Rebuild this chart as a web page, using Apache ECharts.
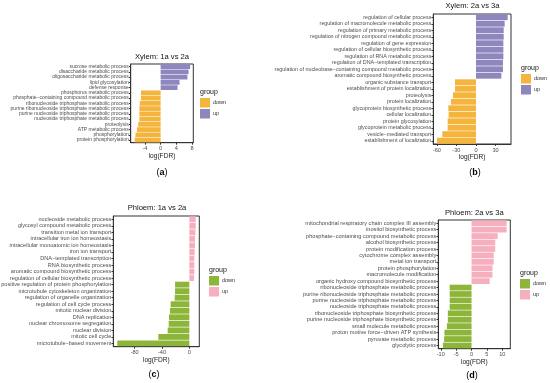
<!DOCTYPE html>
<html><head><meta charset="utf-8">
<script src="https://cdn.jsdelivr.net/npm/echarts@6/dist/echarts.min.js"></script>
<style>html,body{margin:0;padding:0;background:#fff}#c{width:550px;height:383px}</style>
</head><body><div id="c"></div>
<script>
// ---------- DATA ----------
const titles = ['Xylem: 1a vs 2a', 'Xylem: 2a vs 3a', 'Phloem: 1a vs 2a', 'Phloem: 2a vs 3a'];
const captions = ['a', 'b', 'c', 'd'];
const groups = ['down', 'up'];

const catsA = ['sucrose metabolic process','disaccharide metabolic process','oligosaccharide metabolic process','lipid glycosylation','defense response','phosphorus metabolic process','phosphate\u2212containing compound metabolic process','ribonucleoside triphosphate metabolic process','purine ribonucleoside triphosphate metabolic process','purine nucleoside triphosphate metabolic process','nucleoside triphosphate metabolic process','proteolysis','ATP metabolic process','phosphorylation','protein phosphorylation'];
const valsA = [7.5, 7.1, 6.8, 4.8, 4.3, -5.0, -5.0, -5.3, -5.4, -5.4, -5.4, -5.7, -6.0, -6.4, -6.6];
const grpA = ['up','up','up','up','up','down','down','down','down','down','down','down','down','down','down'];
const ticksA = [-4, 0, 4, 8];

const catsB = ['regulation of cellular process','regulation of macromolecule metabolic process','regulation of primary metabolic process','regulation of nitrogen compound metabolic process','regulation of gene expression','regulation of cellular biosynthetic process','regulation of RNA metabolic process','regulation of DNA\u2212templated transcription','regulation of nucleobase\u2212containing compound metabolic process','aromatic compound biosynthetic process','organic substance transport','establishment of protein localization','proteolysis','protein localization','glycoprotein biosynthetic process','cellular localization','protein glycosylation','glycoprotein metabolic process','vesicle\u2212mediated transport','establishment of localization'];
const valsB = [48.5, 43.9, 42.4, 42.4, 41.9, 41.9, 41.9, 41.3, 41.3, 38.8, -32.2, -32.2, -35.2, -38.3, -42.4, -41.9, -43.4, -43.4, -51.6, -59.7];
const grpB = ['up','up','up','up','up','up','up','up','up','up','down','down','down','down','down','down','down','down','down','down'];
const ticksB = [-60, -30, 0, 30];

const catsC = ['nucleoside metabolic process','glycosyl compound metabolic process','transition metal ion transport','intracellular iron ion homeostasis','intracellular monoatomic ion homeostasis','iron ion transport','DNA\u2212templated transcription','RNA biosynthetic process','aromatic compound biosynthetic process','regulation of cellular biosynthetic process','positive regulation of protein phosphorylation','microtubule cytoskeleton organization','regulation of organelle organization','regulation of cell cycle process','mitotic nuclear division','DNA replication','nuclear chromosome segregation','nuclear division','mitotic cell cycle','microtubule\u2212based movement'];
const valsC = [9.3, 9.3, 8.8, 8.3, 8.3, 7.8, 7.3, 7.3, 7.3, 6.8, -20.9, -20.9, -21.4, -27.3, -28.3, -29.8, -30.2, -31.7, -45.4, -105.4];
const grpC = ['up','up','up','up','up','up','up','up','up','up','down','down','down','down','down','down','down','down','down','down'];
const ticksC = [-80, -40, 0];

const catsD = ['mitochondrial respiratory chain complex III assembly','inositol biosynthetic process','phosphate\u2212containing compound metabolic process','alcohol biosynthetic process','protein modification process','cytochrome complex assembly','metal ion transport','protein phosphorylation','macromolecule modification','organic hydroxy compound biosynthetic process','ribonucleoside triphosphate metabolic process','purine ribonucleoside triphosphate metabolic process','purine nucleoside triphosphate metabolic process','nucleoside triphosphate metabolic process','ribonucleoside triphosphate biosynthetic process','purine nucleoside triphosphate biosynthetic process','small molecule metabolic process','proton motive force\u2212driven ATP synthesis','pyruvate metabolic process','glycolytic process'];
const valsD = [11.4, 11.4, 8.5, 7.7, 7.7, 7.2, 7.2, 6.8, 6.8, 5.9, -7.1, -7.1, -7.1, -7.1, -7.7, -7.7, -8.0, -8.8, -8.9, -9.3];
const grpD = ['up','up','up','up','up','up','up','up','up','up','down','down','down','down','down','down','down','down','down','down'];
const ticksD = [-10, -5, 0, 5, 10];

// ---------- LAYOUT / STYLE ----------
const FONT = 'Liberation Sans, Arial, Helvetica, sans-serif';
const xylemColors = {down: '#F5B43C', up: '#8E87BE'};
const phloemColors = {down: '#8DB53A', up: '#F5AFBE'};
const panels = [
  {cats: catsA, vals: valsA, grp: grpA, ticks: ticksA, min: -7.6, max: 8.3, fs: 5.0,
   grid: {left: 130.7, top: 64, width: 62.6, height: 78.7}, colors: xylemColors, suffix: '',
   title: [162, 56.7], cap: [162, 173], legend: [200, 98]},
  {cats: catsB, vals: valsB, grp: grpB, ticks: ticksB, min: -65.4, max: 53.6, fs: 5.35,
   grid: {left: 433.3, top: 14, width: 77.7, height: 130}, colors: xylemColors, suffix: '',
   title: [472.5, 5.5], cap: [475, 173], legend: [521, 74]},
  {cats: catsC, vals: valsC, grp: grpC, ticks: ticksC, min: -111.3, max: 14.6, fs: 5.55,
   grid: {left: 113.3, top: 216, width: 86, height: 130.7}, colors: phloemColors, suffix: ' ',
   title: [157, 208.3], cap: [154, 375], legend: [209, 276]},
  {cats: catsD, vals: valsD, grp: grpD, ticks: ticksD, min: -10.8, max: 12.6, fs: 5.65,
   grid: {left: 438.3, top: 220, width: 72, height: 128.7}, colors: phloemColors, suffix: ' ',
   title: [474.3, 213.3], cap: [472, 376], legend: [520, 279]}
];

const grids = [], xAxes = [], yAxes = [], series = [], legends = [], graphics = [];
panels.forEach((p, i) => {
  grids.push(Object.assign({show: true, borderColor: '#333', borderWidth: 1,
    backgroundColor: '#fff', containLabel: false, outerBoundsMode: 'none'}, p.grid));
  xAxes.push({gridIndex: i, type: 'value', min: p.min, max: p.max,
    name: 'log(FDR)', nameLocation: 'middle', nameGap: 8,
    nameTextStyle: {fontSize: 6.6, color: '#1a1a1a', fontFamily: FONT},
    splitLine: {show: false},
    axisLine: {show: true, onZero: false, lineStyle: {color: '#333', width: 1}},
    axisTick: {show: true, length: 2, lineStyle: {color: '#333'}, customValues: p.ticks},
    axisLabel: {fontSize: 5.6, color: '#4d4d4d', margin: 3, fontFamily: FONT, customValues: p.ticks}
  });
  yAxes.push({gridIndex: i, type: 'category', data: p.cats, inverse: true,
    axisLine: {show: true, onZero: false, lineStyle: {color: '#333', width: 1}},
    axisTick: {show: true, length: 1.8, alignWithLabel: true, lineStyle: {color: '#333'}},
    axisLabel: {fontSize: p.fs, color: '#4d4d4d', margin: 2, interval: 0, fontFamily: FONT},
    splitLine: {show: false}
  });
  groups.forEach(g => {
    series.push({type: 'bar', name: g + p.suffix, xAxisIndex: i, yAxisIndex: i, stack: 'st' + i,
      barCategoryGap: '10%',
      data: p.vals.map((v, j) => p.grp[j] === g ? v : null),
      itemStyle: {color: p.colors[g]},
      emphasis: {disabled: true}
    });
  });
  legends.push({left: p.legend[0], top: p.legend[1], orient: 'vertical', padding: 0,
    itemWidth: 10, itemHeight: 9.5, itemGap: 1.5, icon: 'rect', selectedMode: false,
    data: groups.map(g => g + p.suffix),
    formatter: n => n.trim(),
    textStyle: {fontSize: 5.5, color: '#333', fontFamily: FONT, padding: [0, 0, 0, -2]}
  });
  graphics.push({type: 'text', x: p.title[0], y: p.title[1],
    style: {text: titles[i], fontSize: 7.6, fontFamily: FONT, fill: '#111', align: 'center', verticalAlign: 'middle'}});
  graphics.push({type: 'text', x: p.legend[0], y: p.legend[1] - 6,
    style: {text: 'group', fontSize: 7, fontFamily: FONT, fill: '#111', align: 'left', verticalAlign: 'middle'}});
  graphics.push({type: 'text', x: p.cap[0], y: p.cap[1],
    style: {text: '{n|(}{b|' + captions[i] + '}{n|)}', align: 'center', verticalAlign: 'middle',
      rich: {n: {fontSize: 9, fontFamily: FONT, fill: '#000'},
             b: {fontSize: 9, fontFamily: FONT, fontWeight: 'bold', fill: '#000'}}}});
});

const chart = echarts.init(document.getElementById('c'), null, {renderer: 'canvas'});
chart.setOption({
  animation: false,
  backgroundColor: '#fff',
  grid: grids, xAxis: xAxes, yAxis: yAxes, series: series, legend: legends,
  graphic: graphics
});
</script>
</body></html>
